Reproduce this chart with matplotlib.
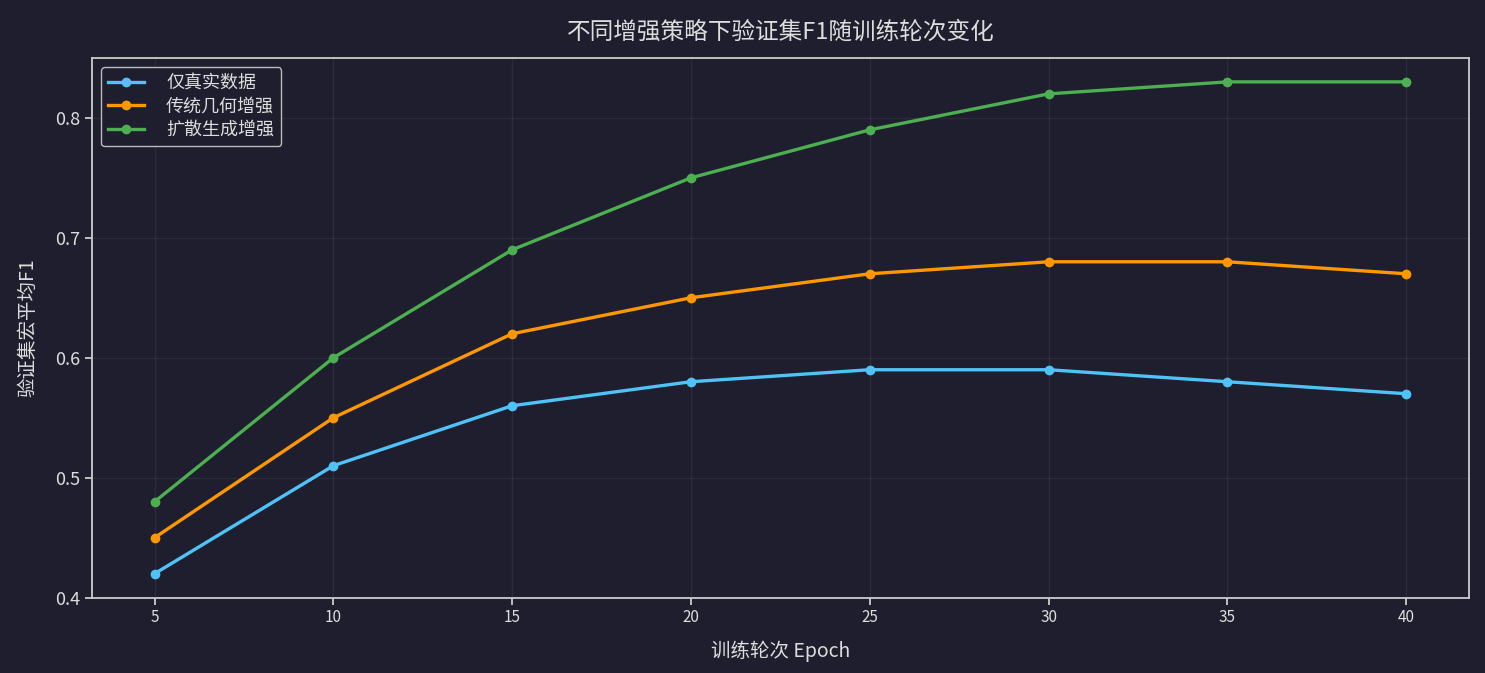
import matplotlib
matplotlib.use('Agg')
import matplotlib.pyplot as plt

epochs = [5, 10, 15, 20, 25, 30, 35, 40]
real_only = [0.42, 0.51, 0.56, 0.58, 0.59, 0.59, 0.58, 0.57]
geo_aug = [0.45, 0.55, 0.62, 0.65, 0.67, 0.68, 0.68, 0.67]
diff_aug = [0.48, 0.60, 0.69, 0.75, 0.79, 0.82, 0.83, 0.83]

series_names = ['仅真实数据', '传统几何增强', '扩散生成增强']
series_colors = ['#4fc3f7', '#ff9800', '#4caf50']


def main():
    plt.rcParams['font.family'] = ['Noto Sans CJK SC', 'DejaVu Sans']
    bg = '#1e1e2e'
    fg = '#dddddd'
    edge = '#cccccc'

    fig, ax = plt.subplots(figsize=(14.85, 6.73), dpi=100)
    fig.patch.set_facecolor(bg)
    ax.set_facecolor(bg)

    for name, vals, color in zip(series_names, [real_only, geo_aug, diff_aug], series_colors):
        ax.plot(epochs, vals, marker='o', markersize=6, linewidth=2.4, color=color, label=name)

    ax.set_ylim(0.4, 0.85)
    ax.set_xticks(epochs)
    ax.set_yticks([0.4, 0.5, 0.6, 0.7, 0.8])
    ax.grid(True, color='#ffffff', alpha=0.06, linewidth=1)

    for s in ax.spines.values():
        s.set_color(edge)
        s.set_linewidth(1.3)
    ax.tick_params(colors=edge, labelcolor=fg, width=1.3, length=5)
    ax.tick_params(axis='x', labelsize=11)
    ax.tick_params(axis='y', labelsize=13)

    ax.set_title('不同增强策略下验证集F1随训练轮次变化', color=fg, fontsize=17, pad=14)
    ax.set_xlabel('训练轮次 Epoch', color=fg, fontsize=14, labelpad=10)
    ax.set_ylabel('验证集宏平均F1', color=fg, fontsize=14, labelpad=12)

    ax.legend(loc='upper left', fontsize=13, facecolor=bg, edgecolor='#bbbbbb',
              labelcolor=fg, framealpha=1, handlelength=2.0, borderpad=0.4,
              labelspacing=0.3, handletextpad=1.2)

    fig.subplots_adjust(left=0.062, right=0.989, top=0.914, bottom=0.112)
    fig.savefig('out.png', facecolor=bg)


if __name__ == '__main__':
    main()
